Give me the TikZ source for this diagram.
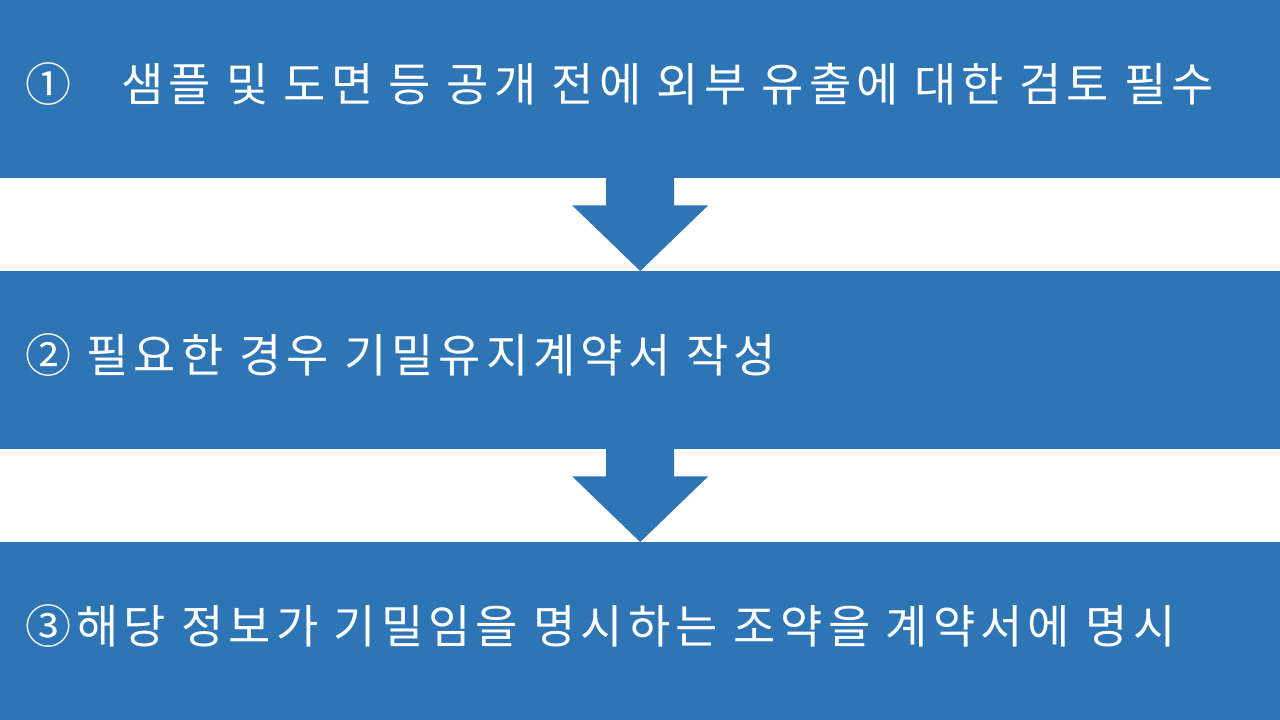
\documentclass[tikz,border=0pt]{standalone}
\usepackage{fontspec}
\newfontfamily\krfont[LetterSpace=11]{Noto Sans CJK KR}
\usetikzlibrary{calc,positioning}
\definecolor{bandblue}{RGB}{46,117,182}

\begin{document}
\begin{tikzpicture}[x=1pt, y=-1pt,
  band/.style={rectangle, fill=bandblue, draw=none, minimum width=1280pt, minimum height=178pt, inner sep=0pt, anchor=north west},
  band text/.style={anchor=west, text=white, font=\krfont\fontsize{46}{52}\selectfont, inner sep=0pt, xshift=25pt, yshift=5pt}
]
  \useasboundingbox (0,0) rectangle (1280,720);
  \node[band] (b1) at (0,0)   {};
  \node[band] (b2) at (0,271) {};
  \node[band] (b3) at (0,542) {};
  % block arrows between the bands
  \foreach \u/\l in {b1/b2, b2/b3} {
    \fill[bandblue] ($(\u.south)+(-34,-1)$) -- ++(0,28) -- ++(-34,0) -- (\l.north)
      -- ($(\u.south)+(68,27)$) -- ++(-34,0) -- ($(\u.south)+(34,-1)$) -- cycle;
  }
  \node[band text] (t1) at (b1.west) {①\hspace{50pt}샘플 및 도면 등 공개 전에 외부 유출에 대한 검토 필수};
  \node[band text] (t2) at (b2.west) {② 필요한 경우 기밀유지계약서 작성};
  \node[band text] (t3) at (b3.west) {③해당 정보가 기밀임을 명시하는 조약을 계약서에 명시};
\end{tikzpicture}
\end{document}
